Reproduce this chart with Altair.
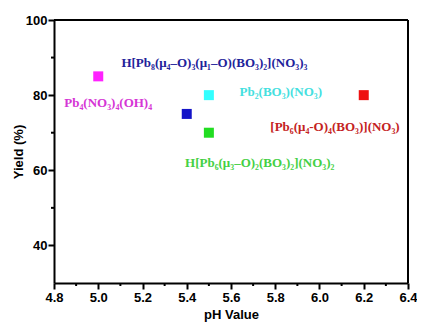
import altair as alt
import pandas as pd

ph = [5.0, 5.4, 5.5, 5.5, 6.2]
yield_pct = [85, 75, 80, 70, 80]
marker_colors = ["#ff22ff", "#1414c8", "#33ffff", "#22dd22", "#ee1111"]

labels = [
    "Pb₄(NO₃)₄(OH)₄",
    "H[Pb₈(μ₄–O)₃(μ₁–O)(BO₃)₂](NO₃)₃",
    "Pb₂(BO₃)(NO₃)",
    "[Pb₆(μ₄-O)₄(BO₃)](NO₃)",
    "H[Pb₆(μ₃–O)₂(BO₃)₂](NO₃)₂",
]
label_ph = [5.045, 5.525, 5.825, 6.07, 5.73]
label_yield = [77.9, 88.6, 80.8, 71.5, 62.0]
label_colors = ["#d535d5", "#22229a", "#44e0e0", "#c42222", "#44d044"]

x_major = [4.8, 5.0, 5.2, 5.4, 5.6, 5.8, 6.0, 6.2, 6.4]
x_minor = [4.9, 5.1, 5.3, 5.5, 5.7, 5.9, 6.1, 6.3]
y_major = [40, 60, 80, 100]
y_minor = [50, 70, 90]

pts = pd.DataFrame({"ph": ph, "y": yield_pct, "c": marker_colors})
lab = pd.DataFrame({"ph": label_ph, "y": label_yield, "t": labels, "c": label_colors})

W, H = 354, 263
xscale = alt.Scale(domain=[4.8, 6.4], nice=False, zero=False)
yscale = alt.Scale(domain=[30, 100], nice=False, zero=False)

common = dict(
    grid=False, domainColor="black", domainWidth=2, tickColor="black", tickWidth=2, tickSize=6,
    labelFont="Liberation Sans", labelFontWeight="bold", labelFontSize=13, labelColor="black",
    titleFont="Liberation Sans", titleFontWeight="bold", titleFontSize=13, titleColor="black",
    labelFlush=False, labelOverlap=False,
)
xaxis = alt.Axis(title="pH Value", values=x_major, format=".1f", titlePadding=4, labelPadding=2, **common)
yaxis = alt.Axis(title="Yield (%)", values=y_major, format="d", titlePadding=0, labelPadding=1, **common)

points = alt.Chart(pts).mark_square(size=100, opacity=1).encode(
    x=alt.X("ph:Q", scale=xscale, axis=xaxis),
    y=alt.Y("y:Q", scale=yscale, axis=yaxis),
    color=alt.Color("c:N", scale=None),
)

texts = alt.Chart(lab).mark_text(
    font="Liberation Serif", fontWeight="bold", fontSize=13, align="center", baseline="middle"
).encode(
    x=alt.X("ph:Q", scale=xscale),
    y=alt.Y("y:Q", scale=yscale),
    text="t:N",
    color=alt.Color("c:N", scale=None),
)

xminor = alt.Chart(pd.DataFrame({"v": x_minor})).mark_rule(color="black", strokeWidth=2, clip=False).encode(
    x=alt.X("v:Q", scale=xscale),
    y=alt.value(H), y2=alt.value(H + 3),
)
yminor = alt.Chart(pd.DataFrame({"v": y_minor})).mark_rule(color="black", strokeWidth=2, clip=False).encode(
    y=alt.Y("v:Q", scale=yscale),
    x=alt.value(0), x2=alt.value(-3),
)
frame = alt.Chart(pd.DataFrame({"k": [0]})).mark_rule(color="black", strokeWidth=2).encode(
    x=alt.value(W), y=alt.value(0), y2=alt.value(H),
)
frame_top = alt.Chart(pd.DataFrame({"k": [0]})).mark_rule(color="black", strokeWidth=2).encode(
    x=alt.value(0), x2=alt.value(W), y=alt.value(0),
)

chart = alt.layer(points, texts, xminor, yminor, frame, frame_top).properties(
    width=W, height=H,
    padding={"left": 46, "top": 12, "right": 9, "bottom": 40},
    autosize=alt.AutoSizeParams(type="none"),
    background="white",
).configure_view(stroke=None)

chart.save("out.html", embed_options={"renderer": "svg", "actions": False})
